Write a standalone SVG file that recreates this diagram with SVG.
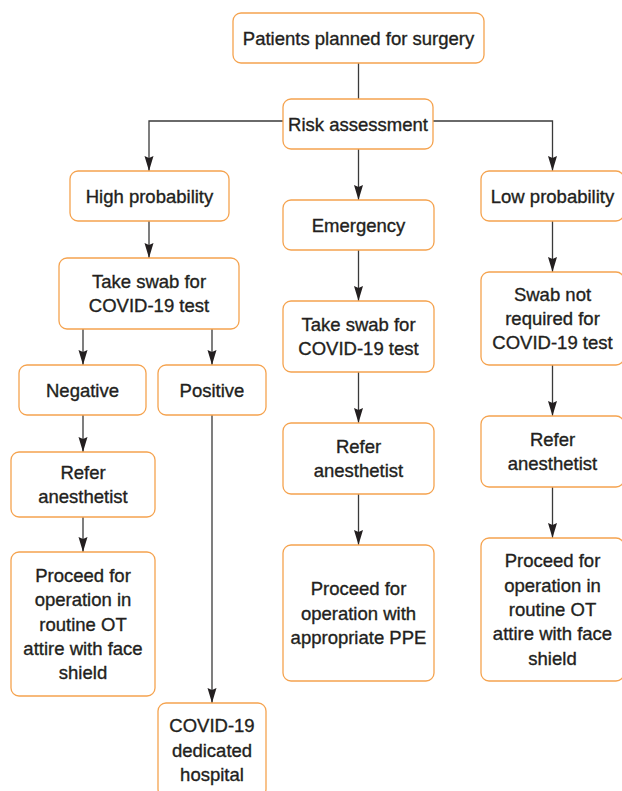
<svg xmlns="http://www.w3.org/2000/svg" width="622" height="791" viewBox="0 0 622 791">
<style>
  .box{fill:#ffffff;stroke:#f5a34f;stroke-width:1.3}
  .t{font-family:"Liberation Sans",Arial,sans-serif;font-size:18.5px;fill:#231f20;stroke:#231f20;stroke-width:0.35;text-anchor:middle}
  .c{fill:none;stroke:#3a3a3a;stroke-width:1.3}
</style>
<defs>
  <marker id="ah" markerUnits="userSpaceOnUse" markerWidth="16" markerHeight="10" refX="15" refY="4.5" orient="auto" viewBox="0 0 16 10">
    <path d="M0,0 L15,4.5 L0,9 L2,4.5 z" fill="#231f20"/>
  </marker>
</defs>
<rect width="622" height="791" fill="#ffffff"/>
<g id="connectors">
  <path class="c" d="M358.5,63 V99"/>
  <path class="c" d="M283,121 H149 V171" marker-end="url(#ah)"/>
  <path class="c" d="M433,121 H552.5 V171" marker-end="url(#ah)"/>
  <path class="c" d="M358.5,149 V200" marker-end="url(#ah)"/>
  <path class="c" d="M149,221 V258" marker-end="url(#ah)"/>
  <path class="c" d="M83,329 V365" marker-end="url(#ah)"/>
  <path class="c" d="M212,329 V365" marker-end="url(#ah)"/>
  <path class="c" d="M83,415 V452" marker-end="url(#ah)"/>
  <path class="c" d="M83,517 V552" marker-end="url(#ah)"/>
  <path class="c" d="M212,415 V703" marker-end="url(#ah)"/>
  <path class="c" d="M358.5,250 V301" marker-end="url(#ah)"/>
  <path class="c" d="M358.5,372 V423" marker-end="url(#ah)"/>
  <path class="c" d="M358.5,494 V545" marker-end="url(#ah)"/>
  <path class="c" d="M552.5,221 V272" marker-end="url(#ah)"/>
  <path class="c" d="M552.5,365 V416" marker-end="url(#ah)"/>
  <path class="c" d="M552.5,487 V538" marker-end="url(#ah)"/>
</g>
<g id="patients">
  <rect class="box" x="233" y="13" width="251" height="50" rx="8"/>
  <text class="t" x="358.5" y="44.5">Patients planned for surgery</text>
</g>
<g id="risk">
  <rect class="box" x="283" y="99" width="150" height="50" rx="8"/>
  <text class="t" x="358" y="130.5">Risk assessment</text>
</g>
<g id="high">
  <rect class="box" x="70" y="171" width="159" height="50" rx="8"/>
  <text class="t" x="149.5" y="202.5">High probability</text>
</g>
<g id="emergency">
  <rect class="box" x="283" y="200" width="151" height="50" rx="8"/>
  <text class="t" x="358.5" y="231.5">Emergency</text>
</g>
<g id="low">
  <rect class="box" x="481" y="171" width="143" height="50" rx="8"/>
  <text class="t" x="552.5" y="202.5">Low probability</text>
</g>
<g id="swabL">
  <rect class="box" x="59" y="258" width="180" height="71" rx="8"/>
  <text class="t" x="149" y="288">Take swab for</text>
  <text class="t" x="149" y="312.3">COVID-19 test</text>
</g>
<g id="swabM">
  <rect class="box" x="283" y="301" width="151" height="71" rx="8"/>
  <text class="t" x="358.5" y="331">Take swab for</text>
  <text class="t" x="358.5" y="355.3">COVID-19 test</text>
</g>
<g id="swabNot">
  <rect class="box" x="481" y="272" width="143" height="93" rx="8"/>
  <text class="t" x="552.5" y="300.7">Swab not</text>
  <text class="t" x="552.5" y="325">required for</text>
  <text class="t" x="552.5" y="349.3">COVID-19 test</text>
</g>
<g id="negative">
  <rect class="box" x="19" y="365" width="127" height="50" rx="8"/>
  <text class="t" x="82.5" y="396.5">Negative</text>
</g>
<g id="positive">
  <rect class="box" x="158" y="365" width="108" height="50" rx="8"/>
  <text class="t" x="212" y="396.5">Positive</text>
</g>
<g id="referL">
  <rect class="box" x="11" y="452" width="144" height="65" rx="8"/>
  <text class="t" x="83" y="479">Refer</text>
  <text class="t" x="83" y="503.2">anesthetist</text>
</g>
<g id="referM">
  <rect class="box" x="283" y="423" width="151" height="71" rx="8"/>
  <text class="t" x="358.5" y="453">Refer</text>
  <text class="t" x="358.5" y="477.3">anesthetist</text>
</g>
<g id="referR">
  <rect class="box" x="481" y="416" width="143" height="71" rx="8"/>
  <text class="t" x="552.5" y="446">Refer</text>
  <text class="t" x="552.5" y="470.3">anesthetist</text>
</g>
<g id="proceedL">
  <rect class="box" x="11" y="552" width="144" height="144" rx="8"/>
  <text class="t" x="83" y="582">Proceed for</text>
  <text class="t" x="83" y="606.3">operation in</text>
  <text class="t" x="83" y="630.6">routine OT</text>
  <text class="t" x="83" y="654.9">attire with face</text>
  <text class="t" x="83" y="679.2">shield</text>
</g>
<g id="proceedM">
  <rect class="box" x="283" y="545" width="151" height="136" rx="8"/>
  <text class="t" x="358.5" y="595.2">Proceed for</text>
  <text class="t" x="358.5" y="619.5">operation with</text>
  <text class="t" x="358.5" y="643.8">appropriate PPE</text>
</g>
<g id="proceedR">
  <rect class="box" x="481" y="538" width="143" height="143" rx="8"/>
  <text class="t" x="552.5" y="567.4">Proceed for</text>
  <text class="t" x="552.5" y="591.7">operation in</text>
  <text class="t" x="552.5" y="616">routine OT</text>
  <text class="t" x="552.5" y="640.3">attire with face</text>
  <text class="t" x="552.5" y="664.6">shield</text>
</g>
<g id="hospital">
  <rect class="box" x="158" y="703" width="108" height="94" rx="8"/>
  <text class="t" x="212" y="732.2">COVID-19</text>
  <text class="t" x="212" y="756.5">dedicated</text>
  <text class="t" x="212" y="780.8">hospital</text>
</g>
</svg>
